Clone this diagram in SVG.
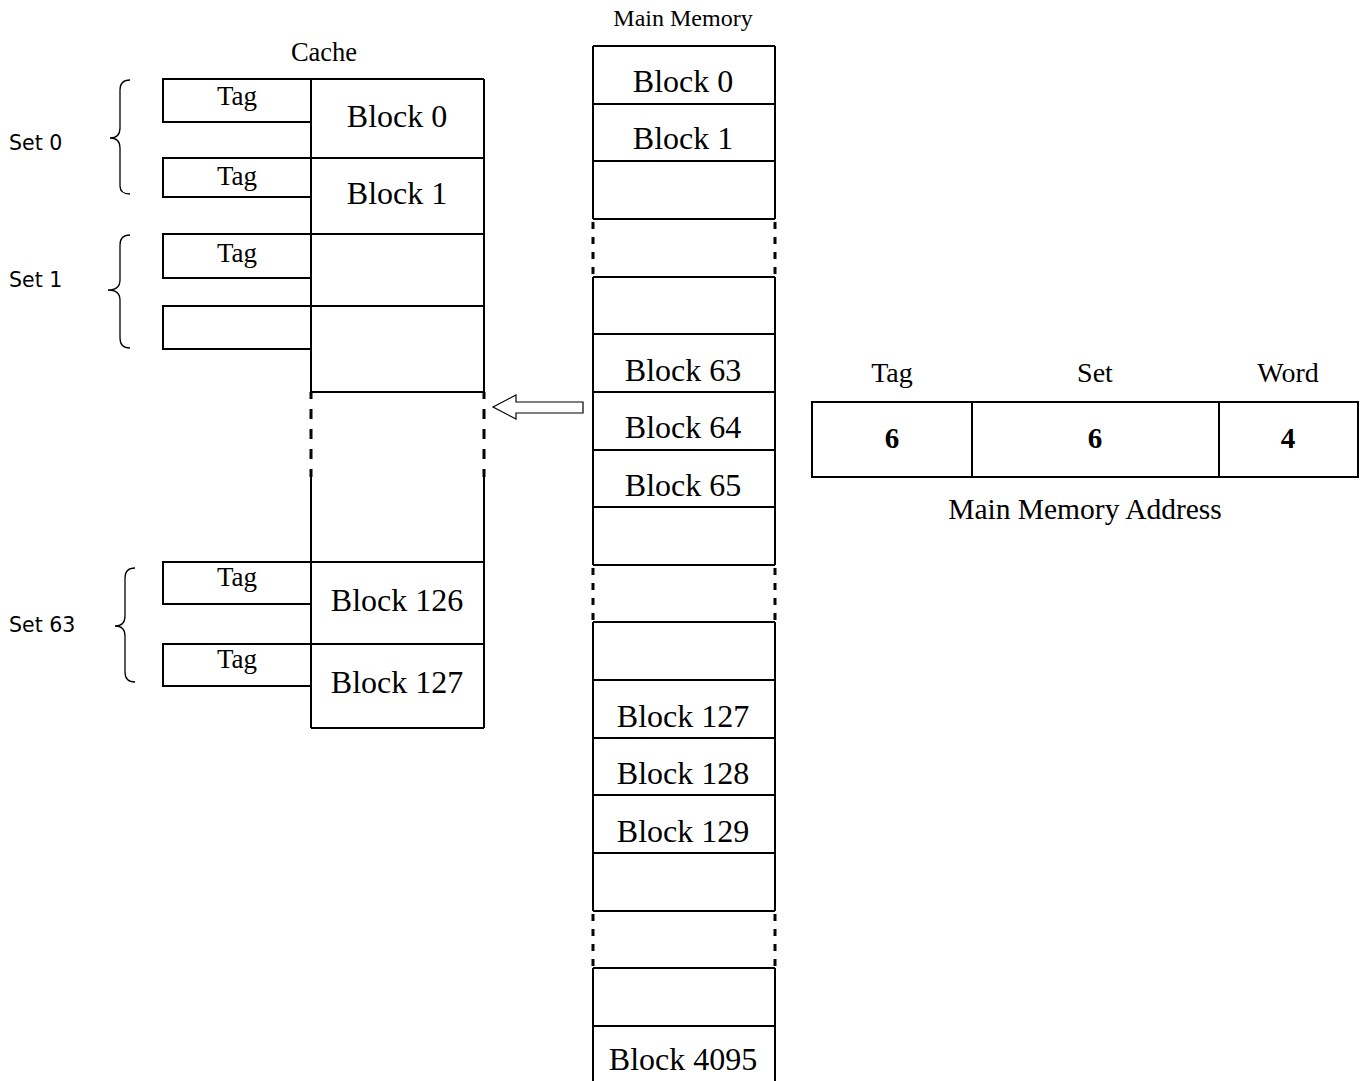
<svg xmlns="http://www.w3.org/2000/svg" width="1364" height="1081" viewBox="0 0 1364 1081">
<style>
.ln{stroke:#000;stroke-width:2;fill:none}
.dc{stroke:#000;stroke-width:3;fill:none;stroke-dasharray:10 10;stroke-dashoffset:3}
.dm{stroke:#000;stroke-width:3;fill:none;stroke-dasharray:7 8;stroke-dashoffset:-3}
.br{stroke:#000;stroke-width:1.3;fill:none}
.s{font-family:"Liberation Serif","Times New Roman",serif;fill:#000;text-anchor:middle}
.blk{font-size:32px}
.tag{font-size:27px}
.lab{font-family:"DejaVu Sans",sans-serif;font-size:20.5px;fill:#000}
</style>
<rect width="1364" height="1081" fill="#fff"/>

<g id="cache">
<text class="s" x="324" y="61" font-size="26.5">Cache</text>
<path class="ln" d="M163 79H484M311 79V392M484 79V392M311 158H484M311 234H484M311 306H484M311 392H484"/>
<path class="dc" d="M311 392V477M484 392V477"/>
<path class="ln" d="M311 477V728M484 477V728M163 562H484M311 644H484M311 728H484"/>
</g>

<g id="cache-set0">
<rect class="ln" x="163" y="79" width="148" height="43"/>
<rect class="ln" x="163" y="158" width="148" height="39"/>
<text class="s tag" x="237" y="105">Tag</text>
<text class="s tag" x="237" y="185">Tag</text>
<text class="s blk" x="397" y="127">Block 0</text>
<text class="s blk" x="397" y="204">Block 1</text>
<path class="br" d="M130 80C123 80 120 83 120 90V128C120 134 117 138 110 138C117 138 120 142 120 148V186C120 191 123 194 130 194"/>
<text class="lab" x="9" y="150">Set 0</text>
</g>

<g id="cache-set1">
<rect class="ln" x="163" y="234" width="148" height="44"/>
<rect class="ln" x="163" y="306" width="148" height="43"/>
<text class="s tag" x="237" y="262">Tag</text>
<path class="br" d="M130 235C123 235 120 238 120 245V280C120 286 116 290 108 290C116 290 120 294 120 300V338C120 344 123 348 130 348"/>
<text class="lab" x="9" y="287">Set 1</text>
</g>

<g id="cache-set63">
<rect class="ln" x="163" y="562" width="148" height="42"/>
<rect class="ln" x="163" y="644" width="148" height="42"/>
<text class="s tag" x="237" y="586">Tag</text>
<text class="s tag" x="237" y="668">Tag</text>
<text class="s blk" x="397" y="611">Block 126</text>
<text class="s blk" x="397" y="693">Block 127</text>
<path class="br" d="M135 568C128 568 125 571 125 578V616C125 622 122 626 115 626C122 626 125 630 125 636V672C125 678 128 682 135 682"/>
<text class="lab" x="9" y="632">Set 63</text>
</g>

<g id="memory">
<text class="s" x="683" y="26" font-size="24">Main Memory</text>
<path class="ln" d="M593 46H775M593 104H775M593 161H775M593 219H775M593 277H775M593 334H775M593 392H775M593 450H775M593 507H775M593 565H775M593 622H775M593 680H775M593 738H775M593 795H775M593 853H775M593 911H775M593 968H775M593 1026H775"/>
<path class="ln" d="M593 46V219M775 46V219M593 277V565M775 277V565M593 622V911M775 622V911M593 968V1081M775 968V1081"/>
<path class="dm" d="M593 219V277M775 219V277M593 565V622M775 565V622M593 911V968M775 911V968"/>
<text class="s blk" x="683" y="92">Block 0</text>
<text class="s blk" x="683" y="149">Block 1</text>
<text class="s blk" x="683" y="381">Block 63</text>
<text class="s blk" x="683" y="438">Block 64</text>
<text class="s blk" x="683" y="496">Block 65</text>
<text class="s blk" x="683" y="727">Block 127</text>
<text class="s blk" x="683" y="784">Block 128</text>
<text class="s blk" x="683" y="842">Block 129</text>
<text class="s blk" x="683" y="1070">Block 4095</text>
</g>

<g id="connectors">
<polygon points="493,407 516,395 516,402 583,402 583,413 516,413 516,419" fill="#fff" stroke="#000" stroke-width="1.2"/>
</g>

<g id="address">
<text class="s" x="892" y="382" font-size="28">Tag</text>
<text class="s" x="1095" y="382" font-size="28">Set</text>
<text class="s" x="1288" y="382" font-size="28">Word</text>
<rect class="ln" x="812" y="402" width="546" height="75"/>
<path class="ln" d="M972 402V477M1219 402V477"/>
<text class="s" x="892" y="448" font-size="29" font-weight="bold">6</text>
<text class="s" x="1095" y="448" font-size="29" font-weight="bold">6</text>
<text class="s" x="1288" y="448" font-size="29" font-weight="bold">4</text>
<text class="s" x="1085" y="519" font-size="29.5">Main Memory Address</text>
</g>
</svg>
